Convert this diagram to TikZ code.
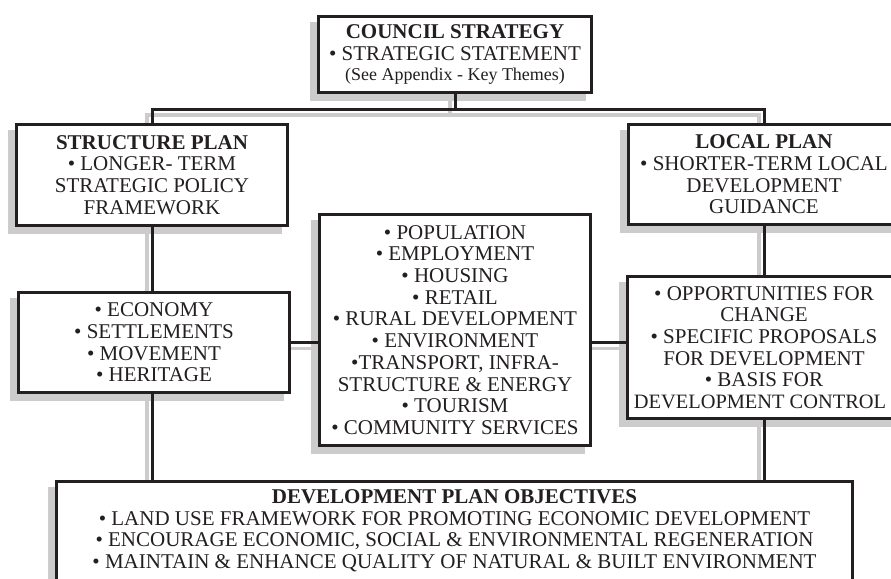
\documentclass[tikz,border=0pt]{standalone}
\usepackage{fontspec}
\setmainfont{Liberation Serif}
\usetikzlibrary{calc}
\pgfdeclarelayer{background}
\pgfsetlayers{background,main}
\definecolor{ink}{HTML}{231F20}
\definecolor{shadowgray}{gray}{0.8}
\newcommand\conpaths[1]{%
  \draw[#1] (council.south) -- (hb);
  \draw[#1] (sp.north) |- (hb) -| (lp.north);
  \draw[#1] (sp.south) -- (sp.south |- eb.north);
  \draw[#1] (sp.south |- eb.south) -- (sp.south |- dev.north);
  \draw[#1] (lp.south) -- (ob.north);
  \draw[#1] (ob.south) -- (ob.south |- dev.north);
  \draw[#1] (eb.east) -- (eb.east -| cb.west);
  \draw[#1] (eb.east -| cb.east) -- (eb.east -| ob.west);
}
\begin{document}
\begin{tikzpicture}[x=1pt,y=-1pt,
  box/.style={draw=ink, line width=3pt, fill=white, align=center, inner sep=0pt,
    text=ink, font=\fontsize{21}{21.7}\selectfont},
  link/.style={draw=ink, line width=3pt, line join=miter},
  linkshadow/.style={draw=shadowgray, line width=3.5pt, line join=miter}]
\useasboundingbox (0,0) rectangle (891,578);

\node[box, minimum width=273pt, minimum height=76pt] (council) at (455,54.5)
  {\textbf{COUNCIL STRATEGY}\\ • STRATEGIC STATEMENT\\[-2pt]
   {\fontsize{18}{18}\selectfont (See Appendix - Key Themes)}};
\node[box, minimum width=271pt, minimum height=101pt] (sp) at (152,175)
  {\textbf{STRUCTURE PLAN}\\ • LONGER- TERM\\ STRATEGIC POLICY\\ FRAMEWORK};
\node[box, minimum width=271pt, minimum height=100pt] (lp) at (764,174.5)
  {\textbf{LOCAL PLAN}\\ • SHORTER-TERM LOCAL\\ DEVELOPMENT\\ GUIDANCE};
\node[box, minimum width=271pt, minimum height=100pt] (eb) at (154,342.5)
  {• ECONOMY\\ • SETTLEMENTS\\ • MOVEMENT\\ • HERITAGE};
\node[box, minimum width=271pt, minimum height=231pt] (cb) at (455,330)
  {• POPULATION\\ • EMPLOYMENT\\ • HOUSING\\ • RETAIL\\ • RURAL DEVELOPMENT\\
   • ENVIRONMENT\\ •TRANSPORT, INFRA-\\ STRUCTURE \& ENERGY\\ • TOURISM\\
   • COMMUNITY SERVICES};
\node[box, minimum width=273pt, minimum height=142pt] (ob) at (764,347.5)
  {• OPPORTUNITIES FOR\\ CHANGE\\ • SPECIFIC PROPOSALS\\ FOR DEVELOPMENT\\
   • BASIS FOR\\ \hspace*{-8pt}{\fontsize{20.4}{21.7}\selectfont DEVELOPMENT CONTROL}};
\node[box, minimum width=796pt, anchor=north, inner ysep=8pt] (dev) at (454.5,480)
  {\textbf{DEVELOPMENT PLAN OBJECTIVES}\\
   • LAND USE FRAMEWORK FOR PROMOTING ECONOMIC DEVELOPMENT\\
   • ENCOURAGE ECONOMIC, SOCIAL \& ENVIRONMENTAL REGENERATION\\
   • MAINTAIN \& ENHANCE QUALITY OF NATURAL \& BUILT ENVIRONMENT\rule[-60pt]{0pt}{60pt}};

\coordinate (hb) at (455,109);

\begin{pgfonlayer}{background}
  \fill[white] (0,0) rectangle (891,578);
  \begin{scope}[transform canvas={xshift=-7pt,yshift=-7pt}]
    \foreach \n in {council,sp,lp,eb,cb,ob,dev}
      \fill[shadowgray] (\n.south west) rectangle (\n.north east);
  \end{scope}
  \begin{scope}[transform canvas={xshift=-5pt,yshift=-6pt}]
    \conpaths{linkshadow}
  \end{scope}
\end{pgfonlayer}

\conpaths{link}
\end{tikzpicture}
\end{document}
